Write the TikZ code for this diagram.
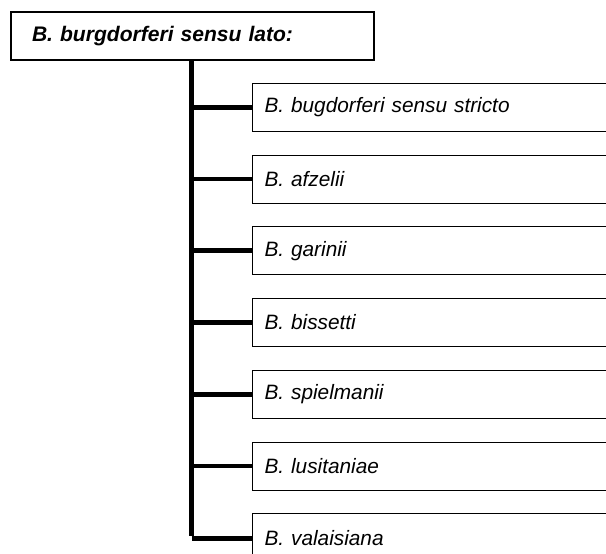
\documentclass[tikz,border=0pt]{standalone}
\usepackage{fontspec}
\setmainfont{Liberation Sans}
\begin{document}
\begin{tikzpicture}[x=0.75pt,y=-0.75pt,
  topbox/.style={draw=black,line width=1.5pt,anchor=north west,minimum height=36pt,
    text width=240.5pt,inner xsep=15.75pt,inner ysep=0pt,align=left,
    font=\fontsize{15.8pt}{18pt}\selectfont\bfseries\itshape},
  childbox/.style={draw=black,line width=0.8pt,anchor=north west,minimum height=36pt,
    text width=270pt,inner xsep=9pt,inner ysep=0pt,align=left,
    font=\fontsize{15.6pt}{18pt}\selectfont\itshape},
  spine/.style={line width=3.75pt},
  branch/.style={line width=3.4pt}]
\useasboundingbox (0,0) rectangle (606,553);
\begin{scope}
\clip (0,0) rectangle (606,553);
\node[topbox] (root) at (10,11) {B. burgdorferi sensu lato:};
\node[childbox] (c1) at (252,82.7) {B. bugdorferi sensu stricto};
\node[childbox] (c2) at (252,154.5) {B. afzelii};
\node[childbox] (c3) at (252,226.2) {B. garinii};
\node[childbox] (c4) at (252,298.0) {B. bissetti};
\node[childbox] (c5) at (252,369.8) {B. spielmanii};
\node[childbox] (c6) at (252,441.5) {B. lusitaniae};
\node[childbox] (c7) at (252,513.3) {B. valaisiana};
\coordinate (top) at (191.5,59);
\coordinate (bot) at (191.5,536);
\draw[spine] (top) -- (bot);
\foreach \c in {c1,c2,c3,c4,c5,c6}{
  \draw[branch] (top |- \c.west) -- (\c.west);
}
\draw[branch] ([yshift=-1.7pt]bot) -- ([yshift=-1.7pt]bot -| c7.west);
\end{scope}
\end{tikzpicture}
\end{document}
